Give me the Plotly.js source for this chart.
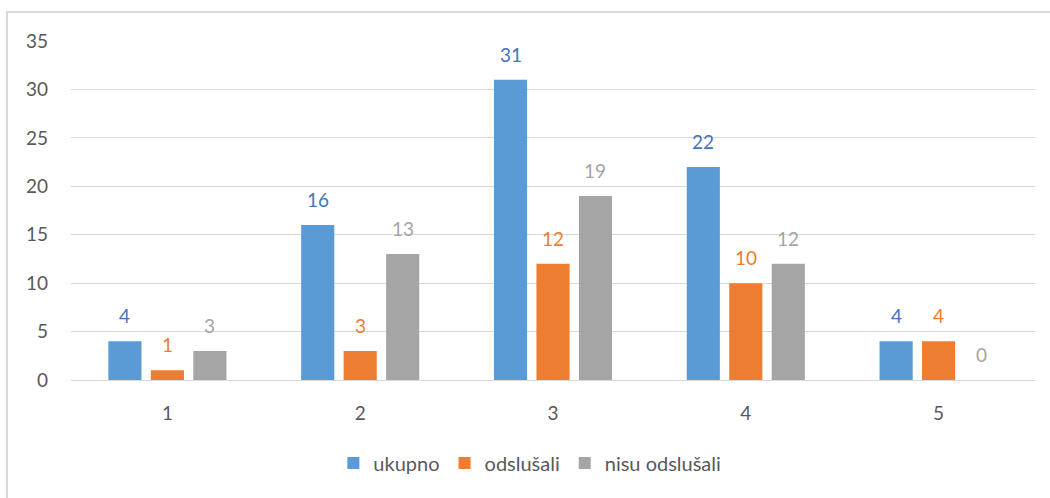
<!DOCTYPE html>
<html><head><meta charset="utf-8">
<script src="https://cdn.plot.ly/plotly-3.0.1.min.js"></script>
<style>
html,body{margin:0;padding:0;background:#fff;}
#wrap{position:relative;width:1050px;height:498px;overflow:hidden;}
#chart{position:absolute;left:0;top:0;width:1050px;height:498px;}
#frame{position:absolute;left:6px;top:11px;width:1100px;height:600px;border-left:2px solid #d9d9d9;border-top:2px solid #d9d9d9;pointer-events:none;}
</style></head>
<body>
<div id="wrap"><div id="chart"></div><div id="frame"></div></div>
<script>
const categories = ["1","2","3","4","5"];
const ukupno = [4,16,31,22,4];
const odslusali = [1,3,12,10,4];
const nisuOdslusali = [3,13,19,12,0];
const seriesNames = ["ukupno","odslušali","nisu odslušali"];
const barColors = ["#5B9BD5","#ED7D31","#A5A5A5"];
const labelColors = ["#4472C4","#ED7D31","#A5A5A5"];
const allSeries = [ukupno, odslusali, nisuOdslusali];

const font = "Lato, 'Open Sans', sans-serif";
const traces = allSeries.map((vals,i)=>({
  type:'bar', x:categories, y:vals, name:seriesNames[i],
  marker:{color:barColors[i]}, hoverinfo:'none'
}));

const slot = 0.2204;
const annotations = [];
allSeries.forEach((vals,s)=>{
  vals.forEach((v,i)=>{
    annotations.push({x:i+(s-1)*slot, y:v, xref:'x', yref:'y', text:String(v),
      showarrow:false, yanchor:'bottom', yshift:12,
      font:{family:font,size:19,color:labelColors[s]}});
  });
});

const layout = {
  width:1050, height:498,
  margin:{l:71,r:15,t:41,b:118},
  paper_bgcolor:'rgba(0,0,0,0)', plot_bgcolor:'#fff',
  barmode:'group', bargap:0.339, bargroupgap:0.22,
  font:{family:font,size:19,color:'#595959'},
  xaxis:{type:'category', showgrid:false, zeroline:false, showline:false,
    ticks:'', ticklabelstandoff:20, tickfont:{family:font,size:19,color:'#595959'}},
  yaxis:{range:[0,35], dtick:5, tick0:0, showgrid:true, gridcolor:'#d9d9d9', gridwidth:1,
    zeroline:true, zerolinecolor:'#d9d9d9', zerolinewidth:1, showline:false, ticks:'',
    ticklabelstandoff:22, tickfont:{family:font,size:19,color:'#595959'}},
  showlegend:true,
  legend:{orientation:'h', x:0.476, xanchor:'center', y:-0.245, yanchor:'middle',
    font:{family:font,size:20,color:'#595959'}, itemwidth:30, traceorder:'normal'},
  annotations:annotations
};
Plotly.newPlot('chart', traces, layout, {staticPlot:true, displayModeBar:false});
</script>
</body></html>
